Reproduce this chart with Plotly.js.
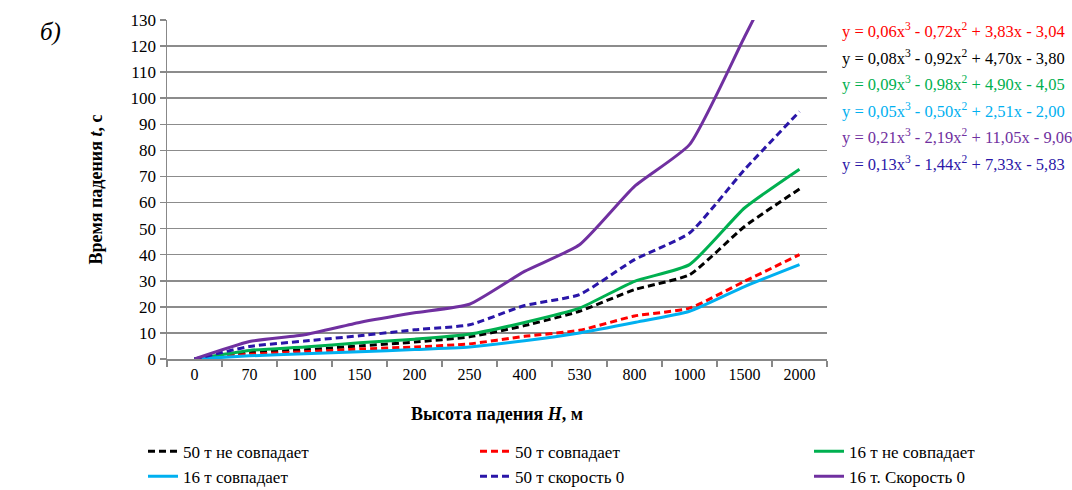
<!DOCTYPE html>
<html>
<head>
<meta charset="utf-8">
<script src="https://cdn.plot.ly/plotly-3.0.1.min.js"></script>
<style>html,body{margin:0;padding:0;background:#fff;} #chart{width:1072px;height:490px;}</style>
</head>
<body>
<div id="chart"></div>
<script>
var categories = ['0','70','100','150','200','250','400','530','800','1000','1500','2000'];
var black50ne  = [0, 2.5, 3.5, 5.0, 6.5, 8.5, 12.8, 18.3, 26.6, 32.3, 50.8, 65.2];
var red50      = [0, 1.8, 2.8, 3.8, 4.6, 5.8, 8.7, 11.0, 16.5, 19.5, 29.8, 40.0];
var green16ne  = [0, 3.3, 4.6, 6.2, 7.6, 9.5, 14.0, 19.5, 29.8, 36.2, 57.9, 72.8];
var cyan16     = [0, 1.2, 2.0, 2.8, 3.6, 4.6, 7.0, 10.0, 14.0, 18.3, 27.8, 36.2];
var blue50v0   = [0, 4.8, 6.9, 8.9, 11.2, 13.1, 20.5, 24.7, 38.1, 48.3, 72.6, 94.9];
var purple16v0 = [0, 6.7, 9.3, 14.0, 17.7, 21.0, 33.6, 43.8, 66.2, 82.2, 123.5, 165.0];
var names = ['50 т не совпадает','50 т совпадает','16 т не совпадает','16 т совпадает','50 т скорость 0','16 т. Скорость 0'];
var xTitle = '<b>Высота падения <i>H</i>, м</b>';
var yTitle = '<b>Время падения <i>t</i>, с</b>';
var equations = [
  ['y = 0,06x<sup>3</sup> - 0,72x<sup>2</sup> + 3,83x - 3,04', '#FF0000'],
  ['y = 0,08x<sup>3</sup> - 0,92x<sup>2</sup> + 4,70x - 3,80', '#000000'],
  ['y = 0,09x<sup>3</sup> - 0,98x<sup>2</sup> + 4,90x - 4,05', '#00B050'],
  ['y = 0,05x<sup>3</sup> - 0,50x<sup>2</sup> + 2,51x - 2,00', '#00B0F0'],
  ['y = 0,21x<sup>3</sup> - 2,19x<sup>2</sup> + 11,05x - 9,06', '#7030A0'],
  ['y = 0,13x<sup>3</sup> - 1,44x<sup>2</sup> + 7,33x - 5,83', '#2A16A8']
];

var series = [black50ne, red50, green16ne, cyan16, blue50v0, purple16v0];
var colors = ['#000000','#FF0000','#00B050','#00B0F0','#2A16A8','#7030A0'];
var dashes = ['7px,4px','7px,4px','solid','solid','7px,4px','solid'];
var legendIds = ['legend','legend2','legend3','legend','legend2','legend3'];
var F = 'Liberation Serif, Times New Roman, serif';

var traces = series.map(function(s,i){
  return {x: categories, y: s, name: names[i], type:'scatter', mode:'lines', legend: legendIds[i],
    line:{color:colors[i], width:3, dash:dashes[i], shape:'spline', smoothing:0.5}};
});

var ann = equations.map(function(e,i){
  return {xref:'paper', yref:'paper', x:1.02, xanchor:'left',
    y: 0.9676 - i*0.0779, yanchor:'middle', showarrow:false, text:e[0],
    font:{family:F, size:16.5, color:e[1]}};
});
ann.push({xref:'paper', yref:'paper', x:-0.195, y:0.965, xanchor:'left', yanchor:'middle', showarrow:false,
  text:'<i>б)</i>', font:{family:F, size:25, color:'#000'}});
ann.push({xref:'paper', yref:'paper', x:-0.109, y:0.5, xanchor:'center', yanchor:'middle', showarrow:false,
  textangle:-90, text:yTitle, font:{family:F, size:18, color:'#000'}});
ann.push({xref:'paper', yref:'paper', x:0.5, y:-0.162, xanchor:'center', yanchor:'middle', showarrow:false,
  text:xTitle, font:{family:F, size:18, color:'#000'}});

function leg(px){
  return {orientation:'v', xref:'container', yref:'container', x:px/1072, xanchor:'left',
    y:0.115, yanchor:'top', bgcolor:'rgba(0,0,0,0)', font:{family:F, size:17, color:'#000'}};
}

var layout = {
  width:1072, height:490,
  margin:{l:167, r:245, t:20, b:131, autoexpand:false},
  paper_bgcolor:'#fff', plot_bgcolor:'#fff',
  font:{family:F, size:16, color:'#000'},
  showlegend:true,
  legend: leg(143),
  legend2: leg(475),
  legend3: leg(809),
  xaxis:{type:'category', range:[-0.5, 11.5], tickson:'boundaries', ticks:'outside', ticklen:6, tickcolor:'#888',
    tickwidth:1.5, showline:true, linecolor:'#888', linewidth:1.5, showgrid:false,
    tickfont:{family:F, size:16}},
  yaxis:{range:[0,130], dtick:10, ticks:'outside', ticklen:6, tickcolor:'#888', tickwidth:1.5,
    showline:true, linecolor:'#888', linewidth:1.5, showgrid:true, gridcolor:'#8c8c8c', gridwidth:1.5,
    zeroline:false, tickfont:{family:F, size:17}},
  annotations: ann
};

Plotly.newPlot('chart', traces, layout, {staticPlot:true, displayModeBar:false});
</script>
</body>
</html>
